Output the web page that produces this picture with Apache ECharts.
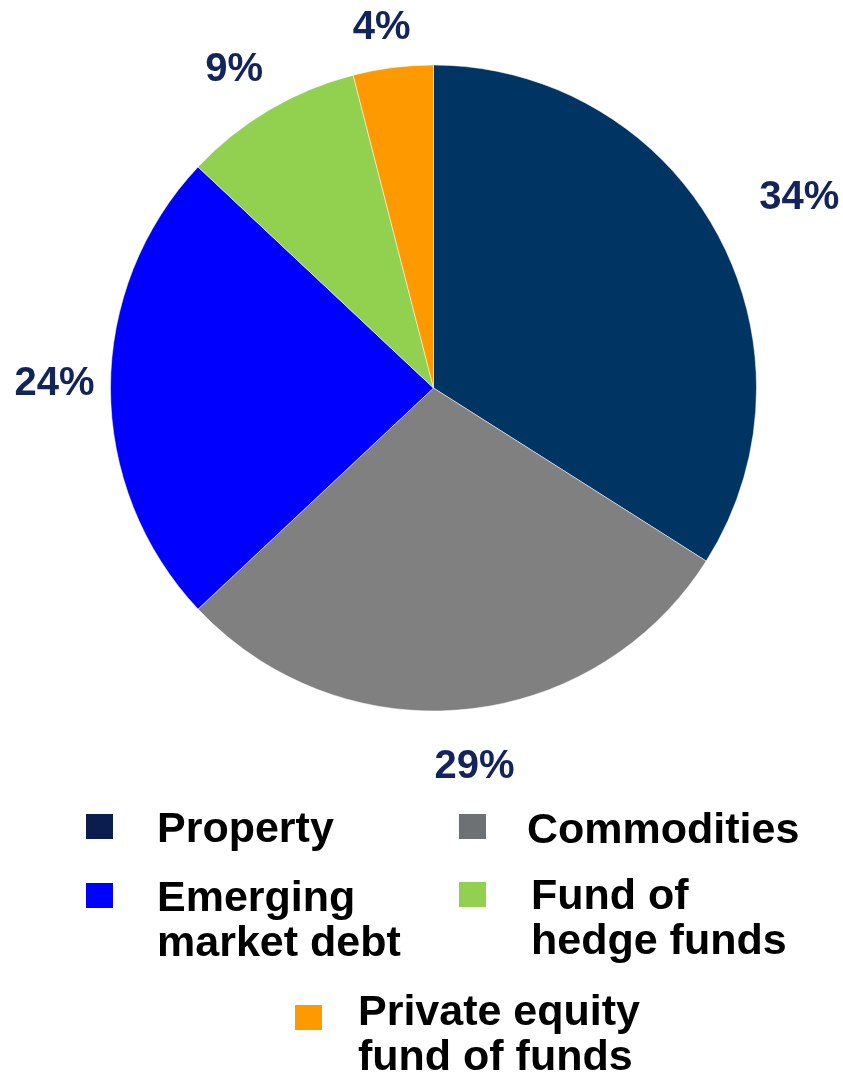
<!DOCTYPE html>
<html>
<head>
<meta charset="utf-8">
<style>
  html, body { margin: 0; padding: 0; background: #ffffff; }
  #chart { width: 843px; height: 1075px; }
</style>
<script src="https://cdn.jsdelivr.net/npm/echarts@6/dist/echarts.min.js"></script>
</head>
<body>
<div id="chart"></div>
<script>
// Asset allocation shares (percent), clockwise from 12 o'clock
const categories = ['Property', 'Commodities', 'Emerging market debt', 'Fund of hedge funds', 'Private equity fund of funds'];
const values = [34, 29, 24, 9, 4];
const legendLines = [['Property'], ['Commodities'], ['Emerging', 'market debt'], ['Fund of', 'hedge funds'], ['Private equity', 'fund of funds']];
const sliceColors = ['#003462', '#808080', '#0000ff', '#92d050', '#ff9900'];
const legendColors = ['#0b1c4f', '#6d7174', '#0000ff', '#92d050', '#ff9900'];

const FONT = '"Liberation Sans", Arial, sans-serif';
const LINE = 45;
const ICON_W = 29, ICON_H = 27;

// Per-entry legend placement: icon left/top, spacer above the text, text indent
const legendSpots = [
  { left: 84,  iconTop: 813,  spacer: 7,  indent: 38 },
  { left: 457, iconTop: 813,  spacer: 10, indent: 35 },
  { left: 84,  iconTop: 882,  spacer: 53, indent: 38 },
  { left: 457, iconTop: 881,  spacer: 50, indent: 39 },
  { left: 293, iconTop: 1004, spacer: 37, indent: 30 }
];

const legends = categories.map((name, i) => {
  const s = legendSpots[i];
  const lines = legendLines[i];
  const boxH = s.spacer + lines.length * LINE;
  const text = '{sp|\u00a0}\n' + lines.map(l => '{t|' + l + '}').join('\n');
  return {
    data: [{ name: name, itemStyle: { color: legendColors[i] } }],
    left: s.left,
    top: s.iconTop - (boxH / 2 - ICON_H / 2),
    padding: 0,
    icon: 'rect',
    itemWidth: ICON_W,
    itemHeight: ICON_H,
    selectedMode: false,
    formatter: () => text,
    textStyle: {
      fontFamily: FONT,
      fontSize: 43,
      fontWeight: 'bold',
      color: '#000000',
      padding: [0, 0, 0, s.indent],
      rich: {
        sp: { fontSize: 4, lineHeight: s.spacer, height: s.spacer },
        t: { fontFamily: FONT, fontSize: 43, fontWeight: 'bold', color: '#000000', lineHeight: LINE }
      }
    }
  };
});

// Nudges for labels that sit off the common ring
const labelNudge = {
  'Property': [31, -6],
  'Commodities': [5, -1],
  'Emerging market debt': [3, -4],
  'Fund of hedge funds': [-5, 11],
  'Private equity fund of funds': [-4, 19]
};

const chart = echarts.init(document.getElementById('chart'), null, { renderer: 'canvas' });
chart.setOption({
  animation: false,
  backgroundColor: '#ffffff',
  legend: legends,
  series: [
    {
      type: 'pie',
      name: 'allocation',
      center: [433.5, 388],
      radius: [0, 323],
      startAngle: 90,
      clockwise: true,
      silent: true,
      label: { show: false },
      labelLine: { show: false },
      itemStyle: { borderColor: '#ffffff', borderWidth: 0.5 },
      data: categories.map((name, i) => ({ name: name, value: values[i], itemStyle: { color: sliceColors[i] } }))
    },
    {
      // transparent ring that carries the percentage labels
      type: 'pie',
      name: 'labels',
      center: [433.5, 388],
      radius: [0, 758],
      startAngle: 90,
      clockwise: true,
      silent: true,
      z: 1,
      itemStyle: { color: 'rgba(0,0,0,0)' },
      labelLine: { show: false },
      label: {
        show: true,
        position: 'inside',
        formatter: '{c}%',
        fontFamily: FONT,
        fontSize: 40,
        fontWeight: 'bold',
        color: '#12245a'
      },
      data: categories.map((name, i) => ({
        name: name,
        value: values[i],
        label: labelNudge[name] ? { offset: labelNudge[name] } : {}
      }))
    }
  ]
});
</script>
</body>
</html>
